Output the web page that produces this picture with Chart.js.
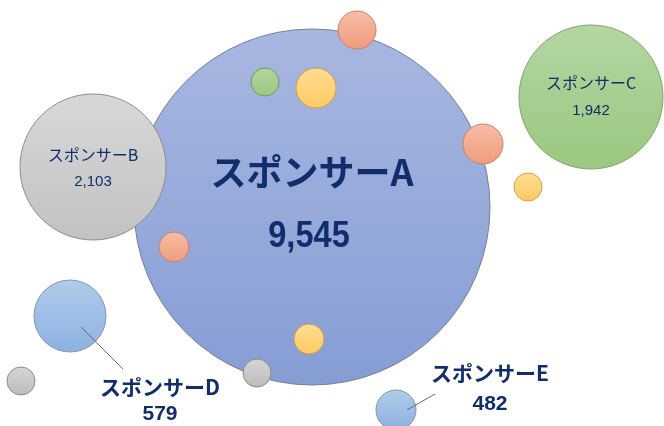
<!DOCTYPE html>
<html lang="ja">
<head>
<meta charset="UTF-8">
<title>スポンサー バブルチャート</title>
<style>
  body { margin: 0; background: #ffffff; }
  #wrap { width: 664px; height: 426px; }
</style>
<script src="https://cdn.jsdelivr.net/npm/chart.js"></script>
</head>
<body>
<div id="wrap"><canvas id="chart" width="664" height="426"></canvas></div>
<script>
// main sponsors (position on the packing plane, bubble radius)
const sponsorNames = ['スポンサーA', 'スポンサーB', 'スポンサーC', 'スポンサーD', 'スポンサーE'];
const sponsorValues = [9545, 2103, 1942, 579, 482];
const sponsorX = [312, 93, 591, 70, 396];
const sponsorY = [207, 167, 97, 316, 410];
const sponsorR = [178, 73, 72, 36, 20];

// small satellite bubbles
const smallKinds = ['orange', 'green', 'yellow', 'orange', 'yellow', 'orange', 'yellow', 'gray', 'gray'];
const smallX = [357, 265, 316, 483, 528, 174, 309, 257, 21];
const smallY = [30, 82, 88, 144, 187, 247, 339, 373, 381];
const smallR = [19, 14, 20, 20, 14, 15, 15, 14, 14];

// colours [top, bottom, border]
const sponsorColors = [
  ['#a8b7e0', '#869dd4', '#6f7f9f'],
  ['#d8d8d8', '#c2c2c2', '#8c8c8c'],
  ['#b4d6a3', '#9bc77f', '#7fa56b'],
  ['#b0cbea', '#8db2e1', '#8295b0'],
  ['#b0cbea', '#8db2e1', '#8295b0']
];
const kindColors = {
  orange: ['#f7bda6', '#f09c7c', '#c8806a'],
  yellow: ['#ffdd93', '#ffca63', '#c9a04f'],
  green:  ['#b2d69c', '#9cc883', '#709b5a'],
  gray:   ['#d6d6d6', '#bcbcbc', '#8a8a8a']
};

function grad(ctx, top, bottom) {
  const chart = ctx.chart;
  if (!chart.scales || !chart.scales.y || !ctx.raw) return top;
  const y = chart.scales.y.getPixelForValue(ctx.raw.y);
  const r = ctx.raw.r;
  if (!Number.isFinite(y)) return top;
  const g = chart.ctx.createLinearGradient(0, y - r, 0, y + r);
  g.addColorStop(0, top);
  g.addColorStop(1, bottom);
  return g;
}

// label layout: offsets from the bubble centre, fonts
const labelStyle = [
  { name: [0, -35], value: [-3, 30], nameFont: 'bold 36px "Noto Sans CJK JP"', valueFont: 'bold 37px "Liberation Sans"', squeeze: 0.88 },
  { name: [0, -12], value: [0, 15], nameFont: '16px "Noto Sans CJK JP"', valueFont: '15px "Liberation Sans"', squeeze: 1 },
  { name: [0, -14], value: [0, 14], nameFont: '16px "Noto Sans CJK JP"', valueFont: '15px "Liberation Sans"', squeeze: 1 },
  { name: [90, 71], value: [90, 98], nameFont: 'bold 21px "Noto Sans CJK JP"', valueFont: 'bold 21px "Liberation Sans"', squeeze: 1, leader: [[11, 11], [53, 53]] },
  { name: [94, -37], value: [94, -6], nameFont: 'bold 21px "Noto Sans CJK JP"', valueFont: 'bold 21px "Liberation Sans"', squeeze: 1, leader: [[11, 0], [39, -16]] }
];

const labelPlugin = {
  id: 'sponsorLabels',
  afterDatasetsDraw(chart) {
    const c = chart.ctx;
    const meta = chart.getDatasetMeta(0);
    meta.data.forEach((el, i) => {
      const s = labelStyle[i];
      c.save();
      if (s.leader) {
        c.strokeStyle = '#6b6b6b';
        c.lineWidth = 1;
        c.beginPath();
        c.moveTo(el.x + s.leader[0][0], el.y + s.leader[0][1]);
        c.lineTo(el.x + s.leader[1][0], el.y + s.leader[1][1]);
        c.stroke();
      }
      c.fillStyle = '#112d6b';
      c.textAlign = 'center';
      c.textBaseline = 'middle';
      c.font = s.nameFont;
      c.fillText(sponsorNames[i], el.x + s.name[0], el.y + s.name[1]);
      c.font = s.valueFont;
      c.translate(el.x + s.value[0], el.y + s.value[1]);
      c.scale(s.squeeze, 1);
      c.fillText(sponsorValues[i].toLocaleString('en-US'), 0, 0);
      c.restore();
    });
  }
};

const mainData = sponsorNames.map((n, i) => ({ x: sponsorX[i], y: sponsorY[i], r: sponsorR[i] }));
const smallData = smallKinds.map((k, i) => ({ x: smallX[i], y: smallY[i], r: smallR[i] }));

new Chart(document.getElementById('chart'), {
  type: 'bubble',
  data: {
    datasets: [
      {
        label: 'スポンサー',
        data: mainData,
        clip: false,
        order: 2,
        backgroundColor: ctx => grad(ctx, sponsorColors[ctx.dataIndex][0], sponsorColors[ctx.dataIndex][1]),
        borderColor: ctx => sponsorColors[ctx.dataIndex][2],
        borderWidth: 1
      },
      {
        label: 'その他',
        data: smallData,
        clip: false,
        order: 1,
        backgroundColor: ctx => grad(ctx, kindColors[smallKinds[ctx.dataIndex]][0], kindColors[smallKinds[ctx.dataIndex]][1]),
        borderColor: ctx => kindColors[smallKinds[ctx.dataIndex]][2],
        borderWidth: 1
      }
    ]
  },
  options: {
    responsive: false,
    animation: false,
    events: [],
    layout: { padding: 0, autoPadding: false },
    plugins: { legend: { display: false }, tooltip: { enabled: false } },
    scales: {
      x: { type: 'linear', min: 0, max: 664, display: false },
      y: { type: 'linear', min: 0, max: 426, reverse: true, display: false }
    }
  },
  plugins: [labelPlugin]
});
</script>
</body>
</html>
